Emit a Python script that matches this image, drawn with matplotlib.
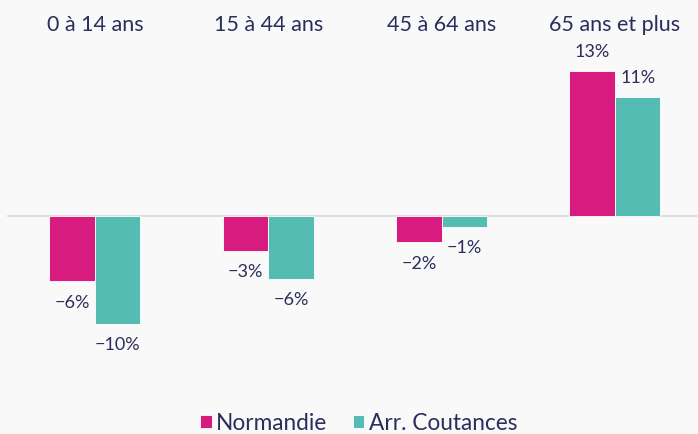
import matplotlib.pyplot as plt
import numpy as np

# --- DATA ---------------------------------------------------------------
categories = ["0 à 14 ans", "15 à 44 ans", "45 à 64 ans", "65 ans et plus"]
normandie = [-5.9, -3.2, -2.4, 13.0]
coutances = [-9.7, -5.7, -1.0, 10.6]
labels_normandie = ["−6%", "−3%", "−2%", "13%"]
labels_coutances = ["−10%", "−6%", "−1%", "11%"]
series_names = ["Normandie", "Arr. Coutances"]
# ------------------------------------------------------------------------

BG = "#f9f9f9"
PINK = "#d81b7f"
TEAL = "#54bcb2"
TXT = "#2b2d5c"

plt.rcParams["font.family"] = ["Lato", "DejaVu Sans"]

fig = plt.figure(figsize=(6.98, 4.35), dpi=100, facecolor=BG)
ax = fig.add_axes([0, 0, 1, 1], facecolor=BG)

x = np.arange(len(categories))
w = 0.2625

b1 = ax.bar(x - w / 2, normandie, w, color=PINK, edgecolor="white", linewidth=0.6,
            label=series_names[0], zorder=3)
b2 = ax.bar(x + w / 2, coutances, w, color=TEAL, edgecolor="white", linewidth=0.6,
            label=series_names[1], zorder=3)

for bars, labs in ((b1, labels_normandie), (b2, labels_coutances)):
    for rect, lab in zip(bars, labs):
        h = rect.get_height()
        off = 14.5 if h >= 0 else -14.5
        ax.annotate(lab, (rect.get_x() + rect.get_width() / 2, h),
                    xytext=(0, off), textcoords="offset points",
                    ha="center", va="center", fontsize=13, color=TXT)

ax.axhline(0, xmin=8 / 698, xmax=1, color="#d9d9d9", linewidth=1.2, zorder=2)

# category names along the top
for xi, cat in zip(x, categories):
    ax.text(xi, 17.2, cat, ha="center", va="center", fontsize=15.5, color=TXT)

ax.set_xlim(-0.548, 3.479)
ax.set_ylim(-19.58, 19.43)
ax.axis("off")

fig.legend(loc="center", bbox_to_anchor=(0.514, 0.026), ncol=2, frameon=False,
           handlelength=0.5, handleheight=0.5, handletextpad=0.18,
           columnspacing=1.15, fontsize=16.3, labelcolor=TXT,
           borderpad=0, borderaxespad=0)

fig.savefig("out.png", dpi=100, facecolor=BG)
